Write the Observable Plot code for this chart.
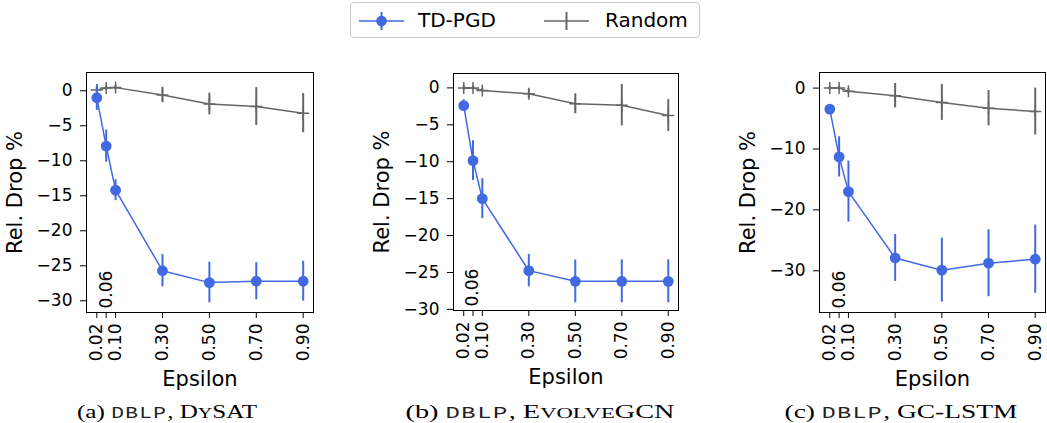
<!DOCTYPE html>
<html>
<head>
<meta charset="utf-8">
<script src="https://cdn.jsdelivr.net/npm/d3@7"></script>
<script src="https://cdn.jsdelivr.net/npm/@observablehq/plot@0.6"></script>
<style>
  html, body { margin: 0; padding: 0; background: #fff; }
  #root { position: relative; width: 1047px; height: 423px; overflow: hidden; font-family: "DejaVu Sans", sans-serif; }
  .legend { position: absolute; left: 350px; top: 2px; width: 350px; height: 36px; border: 1px solid #cccccc; border-radius: 4px; box-sizing: border-box; background: #fff; }
  .legend .sw { position: absolute; top: 4px; }
  .legend .lt { position: absolute; top: 5px; font-size: 20px; line-height: 24px; color: #000; }
  .cap { position: absolute; top: 400px; font-family: "Liberation Serif", "Times New Roman", serif; font-size: 19px; line-height: 24px; color: #000; white-space: nowrap; transform: translateX(-50%); transform-origin: center; }
  .cap .tt { font-family: "Liberation Mono", monospace; font-size: 16px; letter-spacing: 1px; color: #222; }
  .cap .sm { font-size: 0.8em; }
</style>
</head>
<body>
<div id="root">
  <div class="legend">
    <svg class="sw" style="left:7px" width="48" height="28">
      <line x1="1" x2="46" y1="14" y2="14" stroke="#4169E1" stroke-width="1.5"/>
      <line x1="23.5" x2="23.5" y1="5" y2="23" stroke="#4169E1" stroke-width="2"/>
      <circle cx="23.5" cy="14" r="5.3" fill="#4169E1"/>
    </svg>
    <div class="lt" style="left:67px">TD-PGD</div>
    <svg class="sw" style="left:192px" width="48" height="28">
      <line x1="1" x2="46" y1="14" y2="14" stroke="#666666" stroke-width="1.5"/>
      <line x1="23.5" x2="23.5" y1="5" y2="23" stroke="#666666" stroke-width="2"/>
    </svg>
    <div class="lt" style="left:254px">Random</div>
  </div>
  <div class="cap" data-w="180" style="left:167px">(a) <span class="tt">DBLP</span>, D<span class="sm">Y</span>SAT</div>
  <div class="cap" data-w="269" style="left:540px">(b) <span class="tt">DBLP</span>, E<span class="sm">VOLVE</span>GCN</div>
  <div class="cap" data-w="233" style="left:901px">(c) <span class="tt">DBLP</span>, GC-LSTM</div>
</div>
<script>
// ---- data ----
const eps = [0.02, 0.06, 0.10, 0.30, 0.50, 0.70, 0.90];
const xTicks = [0.02, 0.06, 0.10, 0.30, 0.50, 0.70, 0.90];
const xTickLabels = ["0.02", "", "0.10", "0.30", "0.50", "0.70", "0.90"];
const insideLabel = "0.06";

// (a) DBLP, DySAT
const tdA    = [-1.0, -7.9, -14.2, -25.7, -27.4, -27.2, -27.2];
const tdAErr = [1.8, 2.3, 1.5, 2.3, 2.9, 2.65, 2.85];
const rdA    = [0.1, 0.4, 0.45, -0.6, -1.9, -2.25, -3.2];
const rdAErr = [0.3, 0.3, 0.3, 1.1, 1.55, 2.7, 2.8];
const yTicksA = [0, -5, -10, -15, -20, -25, -30];

// (b) DBLP, EvolveGCN
const tdB    = [-2.4, -9.85, -15.0, -24.75, -26.2, -26.2, -26.2];
const tdBErr = [0.8, 2.7, 2.7, 2.2, 2.9, 2.9, 2.9];
const rdB    = [0.0, 0.0, -0.35, -0.8, -2.15, -2.35, -3.75];
const rdBErr = [0.3, 0.3, 0.3, 0.6, 1.35, 2.8, 2.15];
const yTicksB = [0, -5, -10, -15, -20, -25, -30];

// (c) DBLP, GC-LSTM
const tdC    = [-3.45, -11.3, -17.0, -27.9, -29.9, -28.75, -28.1];
const tdCErr = [0.6, 3.3, 5.0, 3.85, 5.25, 5.5, 5.6];
const rdC    = [0.0, 0.0, -0.5, -1.25, -2.35, -3.3, -3.85];
const rdCErr = [0.3, 0.3, 0.4, 2.0, 2.95, 2.9, 3.85];
const yTicksC = [0, -10, -20, -30];

const blue = "#4169E1";
const gray = "#666666";

const plusSymbol = {
  draw(ctx, size) {
    const r = Math.sqrt(size / Math.PI);
    ctx.moveTo(-r, 0); ctx.lineTo(r, 0);
    ctx.moveTo(0, -r); ctx.lineTo(0, r);
  }
};

function rows(vals, errs) {
  return eps.map((x, i) => ({x, y: vals[i], e: errs[i]}));
}

function panel({td, tdErr, rd, rdErr, yTicks, yDomain, left, top, width, height, mL, mR, mT, mB}) {
  const T = rows(td, tdErr), R = rows(rd, rdErr);
  const fmtX = d => xTickLabels[xTicks.indexOf(d)];
  const fmtY = d => d === 0 ? "0" : "\u2212" + Math.abs(d);
  return Plot.plot({
    width, height,
    marginLeft: mL, marginRight: mR, marginTop: mT, marginBottom: mB,
    style: {position: "absolute", left: left + "px", top: top + "px", fontFamily: "DejaVu Sans", fontSize: "17px", background: "transparent", overflow: "visible", color: "#000"},
    x: {type: "linear", domain: [-0.024, 0.944]},
    y: {type: "linear", domain: yDomain},
    marks: [
      Plot.frame({stroke: "#000", strokeWidth: 1}),
      Plot.axisX({ticks: xTicks, tickFormat: fmtX, tickRotate: -90, tickSize: 6, tickPadding: 5, label: null, stroke: "#000"}),
      Plot.axisX({ticks: [], label: "Epsilon", labelAnchor: "center", labelOffset: 73, labelArrow: "none", fontSize: 21}),
      Plot.axisY({ticks: yTicks, tickFormat: fmtY, tickSize: 6, tickPadding: 8, label: null, stroke: "#000"}),
      Plot.axisY({ticks: [], label: "Rel. Drop %", labelAnchor: "center", labelOffset: 79, labelArrow: "none", fontSize: 21}),
      Plot.text([0.06], {x: d => d, text: () => insideLabel, frameAnchor: "bottom", rotate: -90, textAnchor: "start", lineAnchor: "middle", dy: -4, fontSize: 17}),
      Plot.ruleX(R, {x: "x", y1: d => d.y - d.e, y2: d => d.y + d.e, stroke: gray, strokeWidth: 2}),
      Plot.line(R, {x: "x", y: "y", stroke: gray, strokeWidth: 1.5}),
      Plot.dot(R, {x: "x", y: "y", symbol: plusSymbol, r: 6, stroke: gray, fill: "none", strokeWidth: 1.5}),
      Plot.ruleX(T, {x: "x", y1: d => d.y - d.e, y2: d => d.y + d.e, stroke: blue, strokeWidth: 2}),
      Plot.line(T, {x: "x", y: "y", stroke: blue, strokeWidth: 1.5}),
      Plot.dot(T, {x: "x", y: "y", r: 5.4, fill: blue, stroke: "none"})
    ]
  });
}

const root = document.getElementById("root");
const legend = root.querySelector(".legend");
const panels = [
  panel({td: tdA, tdErr: tdAErr, rd: rdA, rdErr: rdAErr, yTicks: yTicksA, yDomain: [-31.67, 2.61],
         left: 0, top: 45, width: 330, height: 350, mL: 86, mR: 17, mT: 27, mB: 83}),
  panel({td: tdB, tdErr: tdBErr, rd: rdB, rdErr: rdBErr, yTicks: yTicksB, yDomain: [-30.15, 1.95],
         left: 360, top: 45, width: 330, height: 350, mL: 93, mR: 12, mT: 28, mB: 85}),
  panel({td: tdC, tdErr: tdCErr, rd: rdC, rdErr: rdCErr, yTicks: yTicksC, yDomain: [-36.85, 2.56],
         left: 717, top: 45, width: 330, height: 350, mL: 102, mR: 2, mT: 27, mB: 83})
];
panels.forEach(p => root.insertBefore(p, legend));

// stretch captions horizontally to the reference's widths
root.querySelectorAll(".cap").forEach(el => {
  const w = el.getBoundingClientRect().width;
  const s = (+el.dataset.w) / w;
  el.style.transform = `translateX(-50%) scaleX(${s})`;
});
</script>
</body>
</html>
